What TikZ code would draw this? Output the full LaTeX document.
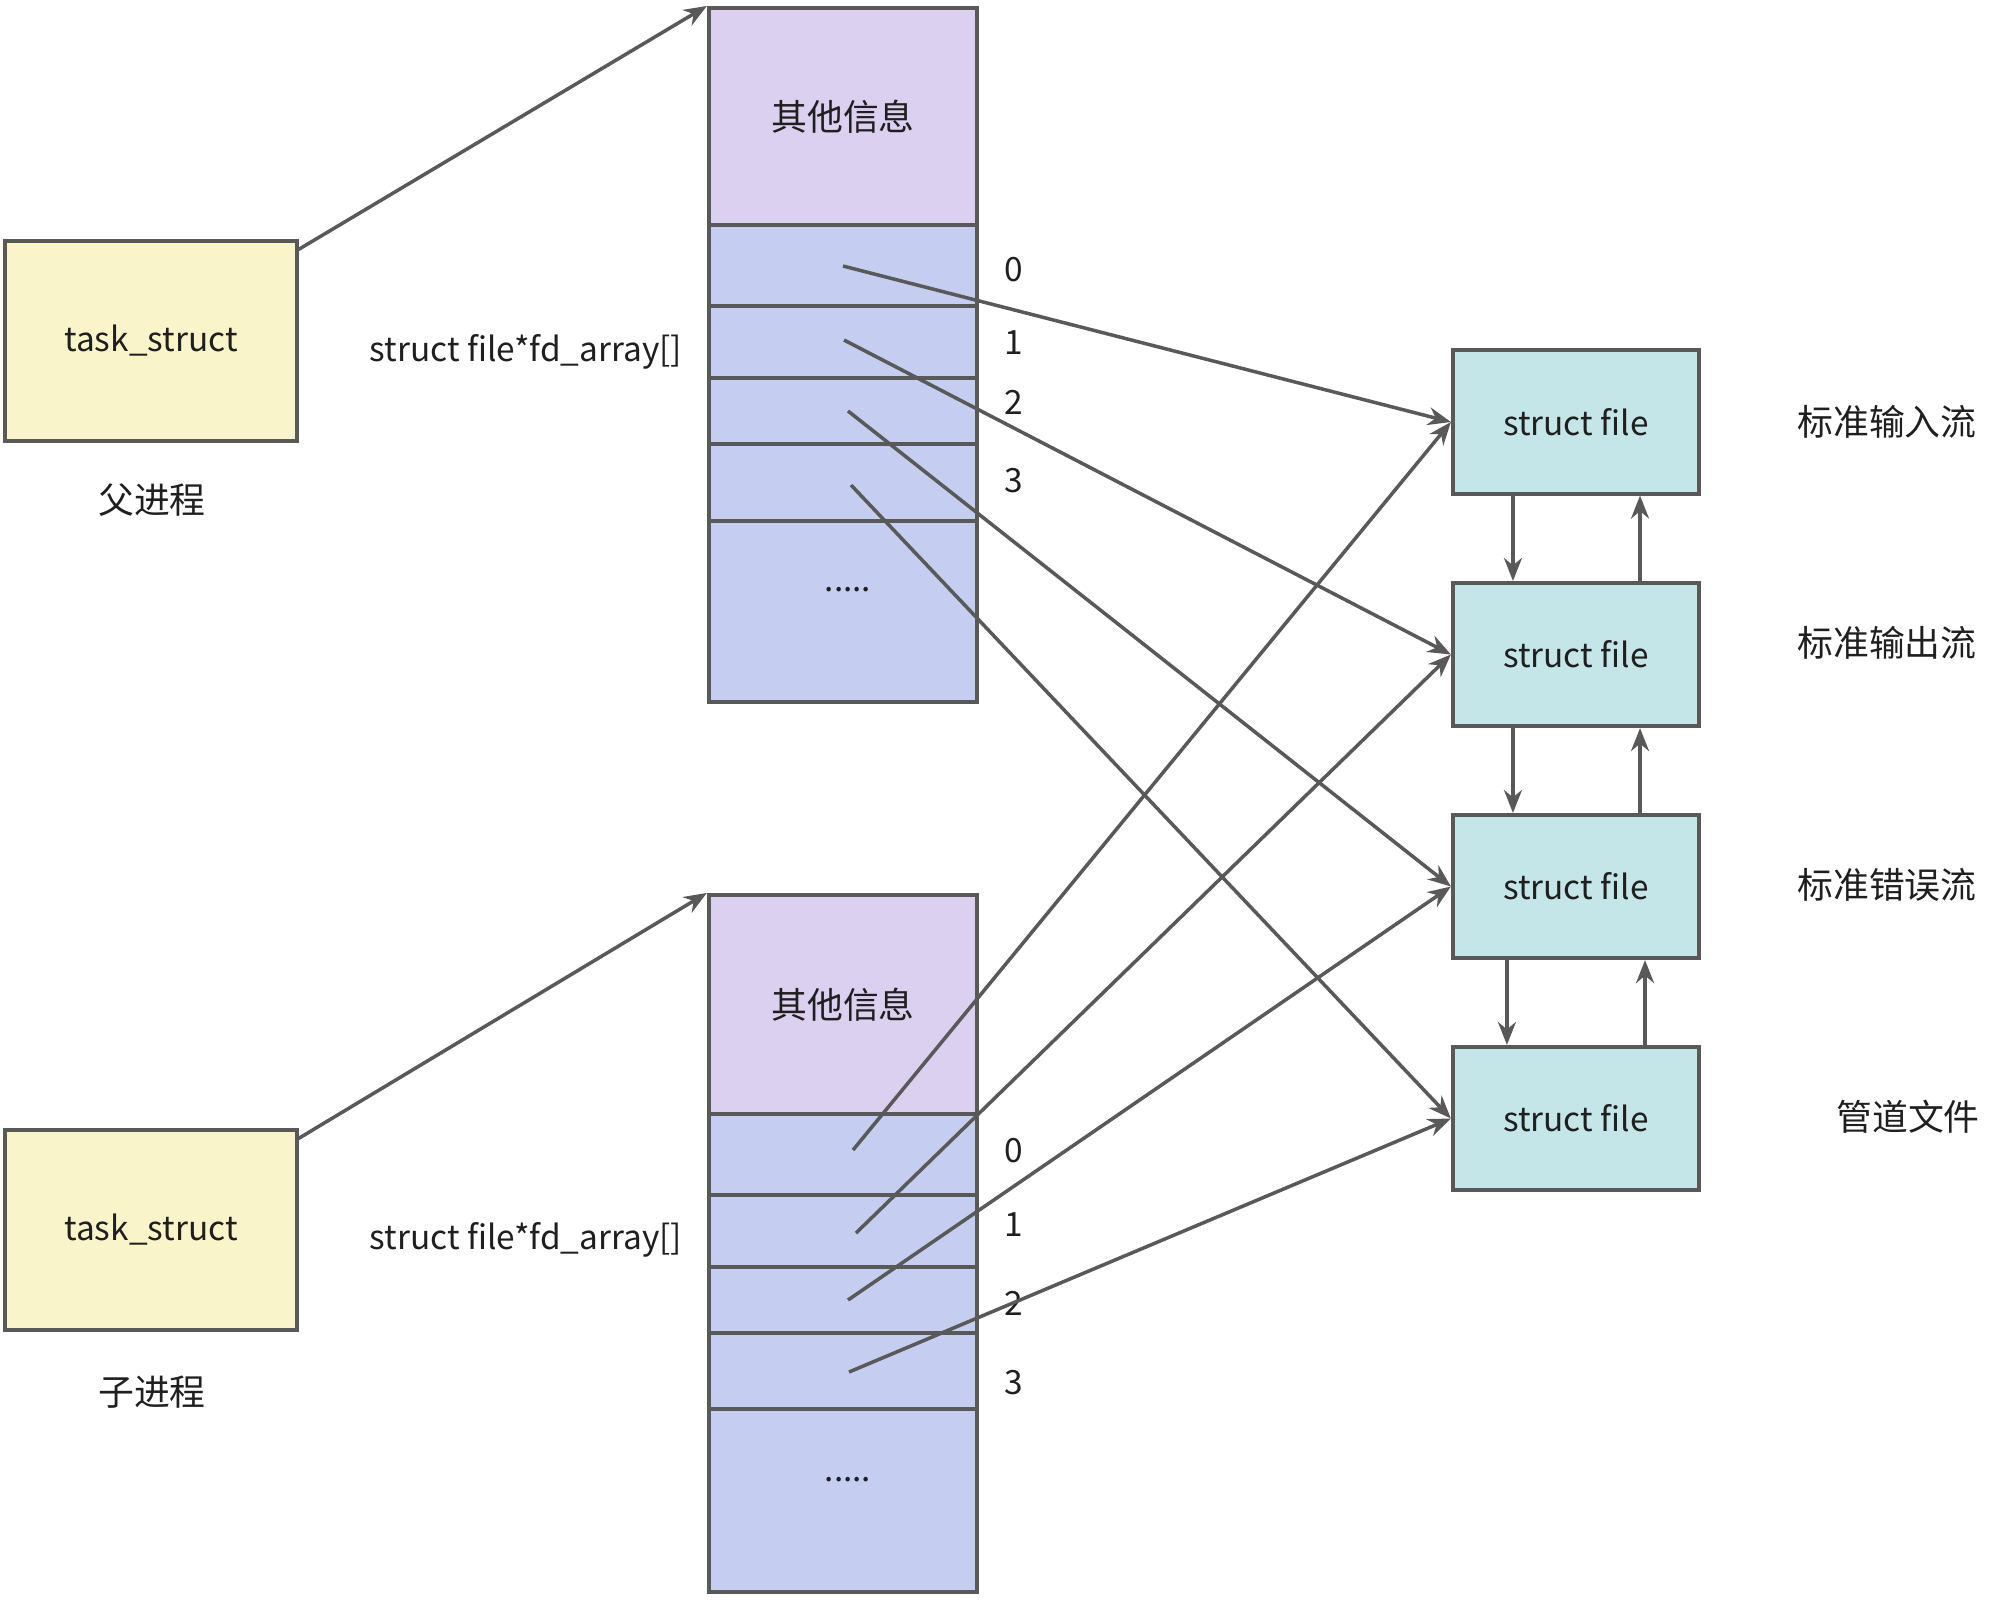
\documentclass[tikz,border=0pt]{standalone}
\usepackage{fontspec}
\setmainfont{Noto Sans CJK SC}
\usetikzlibrary{positioning,arrows.meta}
\definecolor{edge}{HTML}{595959}
\definecolor{txt}{HTML}{1F1F1F}
\definecolor{taskyellow}{HTML}{F9F4C9}
\definecolor{infopurple}{HTML}{DCD0F1}
\definecolor{cellblue}{HTML}{C5CDF0}
\definecolor{fileteal}{HTML}{C5E6E8}

\begin{document}
\begin{tikzpicture}[
  x=0.01cm, y=-0.01cm,
  font=\fontsize{10.2}{12}\selectfont,
  lat/.style={font=\fontsize{9.5}{11}\selectfont},
  box/.style={draw=edge,line width=1.15pt,inner sep=0pt,align=center,text=txt},
  task/.style={box,lat,fill=taskyellow,minimum width=2.91cm,minimum height=1.99cm},
  info/.style={box,fill=infopurple,minimum width=2.68cm},
  cell/.style={box,fill=cellblue,minimum width=2.68cm},
  sfile/.style={box,lat,fill=fileteal,minimum width=2.46cm,minimum height=1.43cm},
  lbl/.style={text=txt,inner sep=0pt},
  ptr/.style={draw=edge,line width=1pt,-{Stealth[length=2.3mm,width=1.8mm]}}
]
\useasboundingbox (0,0) rectangle (1997,1599);
% ---- open files ----
\node[sfile] (f0) at (1576,422) {struct file};
\node[sfile] (f1) at (1576,654.5) {struct file};
\node[sfile] (f2) at (1576,886.5) {struct file};
\node[sfile] (f3) at (1576,1118.5) {struct file};
\node[lbl] (s0) at (1887,422) {标准输入流};
\node[lbl] (s1) at (1887,643) {标准输出流};
\node[lbl] (s2) at (1887,885) {标准错误流};
\node[lbl] (s3) at (1908,1117) {管道文件};
\draw[ptr] ([xshift=0.62cm]f0.south west) -- ([xshift=0.62cm]f1.north west);
\draw[ptr] ([xshift=1.89cm]f1.north west) -- ([xshift=1.89cm]f0.south west);
\draw[ptr] ([xshift=0.62cm]f1.south west) -- ([xshift=0.62cm]f2.north west);
\draw[ptr] ([xshift=1.89cm]f2.north west) -- ([xshift=1.89cm]f1.south west);
\draw[ptr] ([xshift=0.56cm]f2.south west) -- ([xshift=0.56cm]f3.north west);
\draw[ptr] ([xshift=1.94cm]f3.north west) -- ([xshift=1.94cm]f2.south west);
% ---- parent ----
\node[task] (ptask) at (151,341) {task\_struct};
\node[lbl] (pname) at (152,500) {父进程};
\node[lbl,lat] (parr) at (526,352) {struct file*fd\_array[]};
\node[info,minimum height=2.17cm] (pinfo) at (843,116.5) {其他信息};
\node[cell,minimum height=0.81cm] (pfd0) at (843,265.5) {};
\node[cell,minimum height=0.72cm] (pfd1) at (843,342) {};
\node[cell,minimum height=0.66cm] (pfd2) at (843,411) {};
\node[cell,minimum height=0.77cm] (pfd3) at (843,482.5) {};
\node[cell,minimum height=1.81cm] (prest) at (843,611.5) {};
\node[lbl,lat] (pdots) at (848,590) {.....};
\node[lbl,lat] (pn0) at (1014,270) {0};
\node[lbl,lat] (pn1) at (1014,343) {1};
\node[lbl,lat] (pn2) at (1014,402) {2};
\node[lbl,lat] (pn3) at (1014,481) {3};
\coordinate (pp0) at (843,266);
\coordinate (pp1) at (844,340);
\coordinate (pp2) at (848,411);
\coordinate (pp3) at (851,485);
\draw[ptr] ([yshift=-0.1cm]ptask.north east) -- (pinfo.north west);
\draw[ptr] (pp0) -- (f0.west);
\draw[ptr] (pp1) -- (f1.west);
\draw[ptr] (pp2) -- (f2.west);
\draw[ptr] (pp3) -- (f3.west);
% ---- child ----
\node[task] (ctask) at (151,1230) {task\_struct};
\node[lbl] (cname) at (152,1392) {子进程};
\node[lbl,lat] (carr) at (526,1240) {struct file*fd\_array[]};
\node[info,minimum height=2.19cm] (cinfo) at (843,1004.5) {其他信息};
\node[cell,minimum height=0.81cm] (cfd0) at (843,1154.5) {};
\node[cell,minimum height=0.72cm] (cfd1) at (843,1231) {};
\node[cell,minimum height=0.66cm] (cfd2) at (843,1300) {};
\node[cell,minimum height=0.76cm] (cfd3) at (843,1371) {};
\node[cell,minimum height=1.83cm] (crest) at (843,1500.5) {};
\node[lbl,lat] (cdots) at (848,1480) {.....};
\node[lbl,lat] (cn0) at (1014,1151) {0};
\node[lbl,lat] (cn1) at (1014,1225) {1};
\node[lbl,lat] (cn2) at (1014,1303) {2};
\node[lbl,lat] (cn3) at (1014,1383) {3};
\coordinate (cp0) at (853,1150);
\coordinate (cp1) at (856,1233);
\coordinate (cp2) at (848,1300);
\coordinate (cp3) at (849,1372);
\draw[ptr] ([yshift=-0.1cm]ctask.north east) -- (cinfo.north west);
\draw[ptr] (cp0) -- (f0.west);
\draw[ptr] (cp1) -- (f1.west);
\draw[ptr] (cp2) -- (f2.west);
\draw[ptr] (cp3) -- (f3.west);
\end{tikzpicture}
\end{document}
